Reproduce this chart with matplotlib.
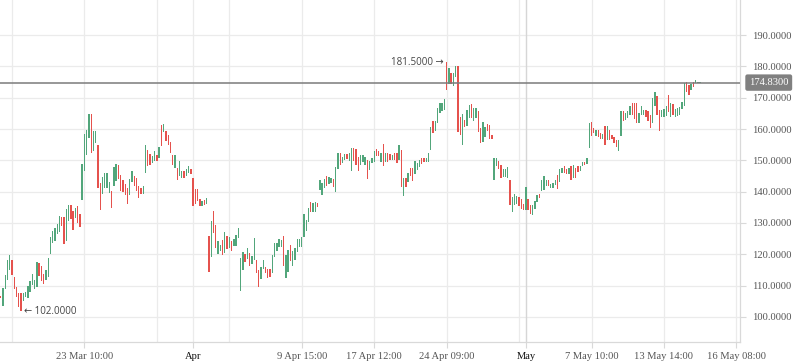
import matplotlib
matplotlib.use("Agg")
import matplotlib.pyplot as plt
import matplotlib.transforms as mtransforms

# ---------------- data ----------------
opens = [
    106.8, 103.4, 109.0, 111.7, 115.1, 118.1, 112.6, 109.6, 107.8, 107.8,
    105.1, 106.5, 106.2, 108.1, 110.2, 108.9, 109.7, 117.2, 116.3, 113.6,
    111.9, 112.9, 120.2, 123.6, 124.1, 126.4, 127.0, 132.0, 132.0, 124.1,
    130.5, 135.8, 133.9, 131.5, 135.5, 132.8, 137.2, 146.5, 151.6, 157.1,
    164.8, 152.9, 155.4, 155.0, 142.8, 139.4, 141.1, 141.1, 139.5, 140.3,
    141.8, 143.3, 148.4, 145.4, 143.8, 142.5, 141.1, 139.0, 143.0, 144.9,
    144.5, 141.9, 141.1, 139.2, 145.9, 153.4, 152.1, 149.1, 149.9, 151.8,
    150.7, 161.2, 159.0, 159.5, 158.0, 155.8, 151.8, 147.7, 147.7, 145.0,
    144.5, 146.5, 144.9, 145.9, 147.2, 144.5, 140.9, 140.9, 137.6, 135.3,
    137.4, 136.2, 126.0, 119.0, 133.7, 129.2, 120.0, 120.9, 124.6, 120.3,
    125.7, 121.9, 124.1, 122.5, 122.5, 125.3, 108.4, 115.0, 120.0, 118.5,
    120.5, 116.9, 118.2, 118.2, 115.0, 112.0, 115.4, 115.9, 115.4, 115.2,
    113.9, 119.3, 121.2, 122.2, 122.4, 126.0, 112.4, 114.4, 122.9, 116.4,
    118.2, 120.7, 122.4, 122.4, 125.6, 127.6, 130.4, 136.7, 133.4, 133.6,
    136.3, 140.5, 138.9, 141.3, 145.0, 142.3, 142.9, 144.0, 140.0, 147.3,
    152.2, 149.0, 150.1, 152.0, 149.8, 146.7, 154.1, 153.6, 151.0, 148.6,
    149.5, 148.6, 150.2, 147.0, 149.1, 149.5, 153.6, 152.9, 149.5, 155.2,
    149.5, 152.2, 152.0, 150.2, 152.2, 152.4, 150.1, 153.2, 138.5, 144.4,
    143.1, 147.6, 147.6, 145.6, 147.0, 147.8, 150.7, 150.7, 149.5, 149.5,
    153.4, 162.7, 159.5, 161.8, 165.1, 165.6, 166.2, 181.5, 174.4, 177.9,
    173.9, 176.5, 180.2, 163.7, 155.0, 163.0, 160.9, 163.5, 167.9, 162.7,
    163.6, 165.9, 160.4, 155.9, 157.6, 161.6, 161.2, 158.2, 143.6, 148.3,
    149.9, 148.6, 144.7, 144.7, 144.5, 143.7, 133.6, 135.9, 136.2, 138.4,
    137.6, 136.2, 134.1, 137.6, 135.9, 132.7, 134.6, 136.8, 139.2, 140.3,
    140.5, 141.9, 143.7, 141.3, 141.3, 142.1, 145.3, 143.2, 146.1, 148.3,
    147.1, 145.6, 148.3, 144.3, 147.5, 148.1, 146.6, 148.3, 149.6, 148.8,
    154.1, 162.2, 160.4, 157.9, 159.6, 158.7, 156.8, 161.1, 156.6, 159.6,
    158.2, 157.5, 156.4, 152.9, 157.9, 165.7, 162.8, 163.6, 164.6, 168.4,
    168.2, 168.2, 162.0, 164.6, 164.6, 166.0, 165.7, 164.6, 162.0, 167.3,
    170.5, 166.2, 163.9, 163.9, 164.3, 170.8, 163.9, 167.9, 163.9, 164.1,
    164.6, 166.5, 167.5, 175.0, 174.0, 172.5, 175.0, 174.8, 174.6, 174.7,
]
closes = [
    106.0, 109.4, 113.4, 118.1, 119.8, 113.4, 108.9, 106.4, 103.3, 102.0,
    107.8, 108.1, 110.0, 111.6, 113.7, 111.8, 117.5, 113.1, 111.6, 110.6,
    115.0, 118.8, 125.6, 127.5, 128.3, 129.6, 132.3, 129.0, 123.4, 134.4,
    135.8, 131.2, 127.7, 134.7, 130.0, 128.6, 148.8, 158.4, 159.7, 164.8,
    152.4, 159.5, 159.5, 141.1, 134.1, 144.8, 146.0, 146.0, 143.0, 134.9,
    148.0, 148.8, 144.1, 140.1, 139.9, 138.8, 136.1, 144.1, 146.7, 141.7,
    140.3, 138.1, 139.2, 141.7, 155.0, 148.1, 148.6, 151.5, 152.9, 149.7,
    154.3, 154.7, 161.6, 156.1, 154.8, 152.3, 148.4, 151.6, 143.6, 149.9,
    146.7, 144.3, 147.3, 148.3, 145.7, 135.3, 136.0, 136.9, 135.3, 136.9,
    135.8, 137.9, 114.5, 130.5, 126.7, 121.9, 124.3, 123.0, 119.8, 127.0,
    121.6, 125.4, 121.1, 124.8, 126.2, 128.4, 118.9, 120.6, 117.7, 122.1,
    116.3, 119.6, 125.2, 114.1, 109.7, 116.0, 118.2, 114.1, 112.4, 112.7,
    119.7, 123.5, 123.7, 124.8, 124.6, 116.4, 119.8, 121.4, 117.8, 121.1,
    122.1, 124.8, 124.8, 125.6, 132.9, 131.0, 134.7, 133.4, 136.5, 136.7,
    135.0, 143.7, 142.9, 143.9, 141.8, 144.8, 144.5, 141.6, 147.8, 152.4,
    148.4, 151.0, 152.0, 150.3, 152.4, 154.1, 149.9, 148.6, 146.7, 151.8,
    151.8, 151.0, 144.1, 149.9, 150.7, 153.1, 151.3, 151.3, 152.3, 148.3,
    152.2, 149.5, 150.2, 151.8, 150.2, 149.1, 154.8, 141.5, 144.4, 141.4,
    146.0, 144.9, 143.3, 149.7, 149.1, 150.2, 148.8, 149.5, 150.7, 152.2,
    160.5, 158.7, 162.7, 166.7, 168.3, 168.4, 169.7, 172.6, 179.5, 174.4,
    177.9, 180.0, 159.0, 158.2, 164.8, 160.5, 166.2, 167.8, 163.6, 166.8,
    166.8, 159.1, 155.4, 162.1, 160.8, 159.5, 156.9, 156.7, 150.9, 150.9,
    147.3, 144.5, 147.3, 147.3, 148.0, 135.7, 138.4, 139.2, 138.6, 135.4,
    134.6, 134.1, 141.5, 134.1, 132.8, 135.9, 137.0, 138.9, 138.1, 143.6,
    145.0, 143.7, 141.9, 142.3, 142.7, 143.7, 140.8, 147.3, 147.7, 145.9,
    145.6, 147.7, 143.7, 148.6, 144.5, 146.2, 148.3, 149.6, 148.6, 150.9,
    162.0, 157.7, 158.7, 159.6, 157.5, 156.8, 158.5, 155.0, 161.1, 156.6,
    156.8, 155.7, 154.2, 156.4, 165.7, 162.5, 165.0, 165.7, 167.3, 164.6,
    163.2, 162.0, 165.0, 167.3, 166.2, 163.9, 162.5, 160.4, 170.0, 171.8,
    164.6, 159.3, 166.2, 166.5, 167.5, 165.4, 168.2, 164.6, 166.5, 166.8,
    167.1, 168.6, 174.8, 171.8, 170.8, 174.3, 173.5, 175.6, 175.0, 174.83,
]

grid_positions = [5, 37, 69, 101, 133, 165, 197, 229, 261, 293, 325]
tick_positions = [37, 85, 133, 165, 197, 232, 261, 293, 325]
tick_labels = ["23 Mar 10:00", "Apr", "9 Apr 15:00", "17 Apr 12:00",
               "24 Apr 09:00", "May", "7 May 10:00", "13 May 14:00",
               "16 May 08:00"]
month_ticks = ["Apr", "May"]
y_ticks = [100, 110, 120, 130, 140, 150, 160, 170, 180, 190]

last_price = 174.83
high_idx, high_val = 197, 181.5
low_idx, low_val = 9, 102.0

# ---------------- style ----------------
GREEN = "#52a67b"
RED = "#e5524d"
GRAY = "#8a8a8a"
GRID = "#ebebeb"
SERIF = "Liberation Serif"

fig = plt.figure(figsize=(7.98, 3.63), dpi=100)
ax = fig.add_axes([0, 21 / 363, 740 / 798, 342 / 363])

n = len(opens)
xs = list(range(n))
bottoms = [min(o, c) for o, c in zip(opens, closes)]
heights = [max(abs(c - o), 0.35) for o, c in zip(opens, closes)]
colors = [GREEN if c > o else (RED if c < o else GRAY) for o, c in zip(opens, closes)]
ax.bar(xs, heights, bottom=bottoms, width=0.6, color=colors, linewidth=0, zorder=3)

ax.set_xlim(-0.3, 326.6)
ax.set_ylim(92.0, 201.2)

# grid
for yv in y_ticks:
    ax.axhline(yv, color=GRID, lw=0.9, zorder=0)
for gx in grid_positions:
    ax.axvline(gx, color=GRID, lw=0.9, zorder=0)
ax.axvline(tick_positions[1], color=GRID, lw=0.9, zorder=0)
ax.axvline(tick_positions[5], color="#d6d6d6", lw=1.0, zorder=0)

# price line
ax.axhline(last_price, color="#7b7b7b", lw=1.1, zorder=4)

# axes
for s in ["top", "left"]:
    ax.spines[s].set_visible(False)
for s in ["right", "bottom"]:
    ax.spines[s].set_color("#d9d9d9")
    ax.spines[s].set_linewidth(0.9)

ax.yaxis.tick_right()
ax.set_yticks(y_ticks)
ax.set_yticklabels([f"{v:.4f}" for v in y_ticks], fontfamily=SERIF, fontsize=7.6, color="#555555")
ax.tick_params(axis="y", length=4, width=0.8, color="#d9d9d9", pad=5)

ax.set_xticks(tick_positions)
ax.set_xticklabels(tick_labels, fontfamily=SERIF, fontsize=7.6, color="#555555")
for lbl in ax.get_xticklabels():
    if lbl.get_text() in month_ticks:
        lbl.set_color("#111111")
ax.tick_params(axis="x", length=4, width=0.8, color="#d9d9d9", pad=3)

# last price tag
trans = mtransforms.blended_transform_factory(ax.transAxes, ax.transData)
ax.text(1.0 + 9 / 740, last_price, f"{last_price:.4f}", transform=trans,
        ha="left", va="center", color="white", fontfamily=SERIF, fontsize=7.6,
        bbox=dict(boxstyle="round,pad=0.35,rounding_size=0.2", fc="#808080", ec="none"),
        clip_on=False, zorder=6)

# high / low annotations
ann_font = ["Open Sans", "DejaVu Sans"]
ax.annotate(f"{high_val:.4f} \u2192", xy=(high_idx, high_val), xytext=(-3, -1),
            textcoords="offset pixels", ha="right", va="center",
            fontsize=7, color="#444444", family=ann_font, zorder=5)
ax.annotate(f"\u2190 {low_val:.4f}", xy=(low_idx, low_val), xytext=(3, -1),
            textcoords="offset pixels", ha="left", va="center",
            fontsize=7, color="#444444", family=ann_font, zorder=5)

fig.savefig("out.png", dpi=100)
